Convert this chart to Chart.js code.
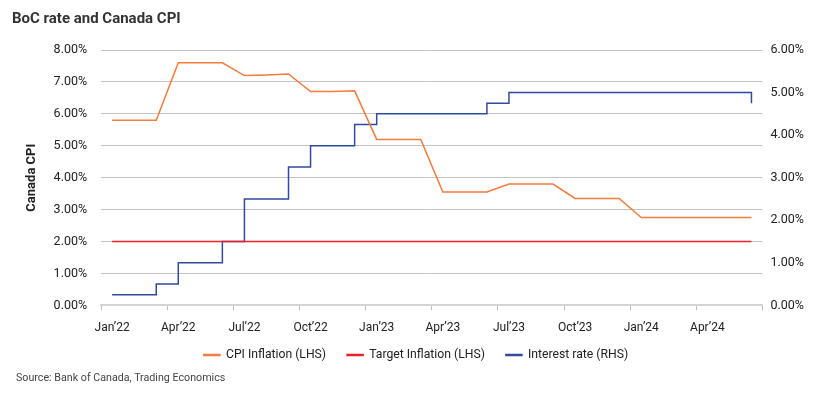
<!DOCTYPE html>
<html>
<head>
<meta charset="utf-8">
<script src="https://cdn.jsdelivr.net/npm/chart.js@4.4.1/dist/chart.umd.min.js"></script>
<style>
  html, body { margin: 0; padding: 0; background: #fff; }
  #wrap { position: relative; width: 831px; height: 394px; font-family: Roboto, sans-serif; }
  #title { position: absolute; left: 12px; top: 9px; font-size: 15px; font-weight: bold; color: #333; }
  #source { position: absolute; left: 16px; top: 371px; font-size: 10.7px; color: #444; }
  canvas { position: absolute; left: 0; top: 0; }
</style>
</head>
<body>
<div id="wrap">
  <canvas id="chart" width="831" height="394"></canvas>
  <div id="title">BoC rate and Canada CPI</div>
  <div id="source">Source: Bank of Canada, Trading Economics</div>
</div>
<script>
const MONTHS = [
  'Jan’22', 'Feb’22', 'Mar’22', 'Apr’22', 'May’22', 'Jun’22',
  'Jul’22', 'Aug’22', 'Sep’22', 'Oct’22', 'Nov’22', 'Dec’22',
  'Jan’23', 'Feb’23', 'Mar’23', 'Apr’23', 'May’23', 'Jun’23',
  'Jul’23', 'Aug’23', 'Sep’23', 'Oct’23', 'Nov’23', 'Dec’23',
  'Jan’24', 'Feb’24', 'Mar’24', 'Apr’24', 'May’24', 'Jun’24',
];
const CPI = [
  5.8, 5.8, 5.8, 7.6, 7.6, 7.6,
  7.2, 7.22, 7.25, 6.7, 6.7, 6.72,
  5.2, 5.2, 5.2, 3.55, 3.55, 3.55,
  3.8, 3.8, 3.8, 3.35, 3.35, 3.35,
  2.75, 2.75, 2.75, 2.75, 2.75, 2.75,
];
const TARGET = MONTHS.map(() => 2.0);
const RATE = [
  0.25, 0.25, 0.5, 1.0, 1.0, 1.5,
  2.5, 2.5, 3.25, 3.75, 3.75, 4.25,
  4.5, 4.5, 4.5, 4.5, 4.5, 4.75,
  5.0, 5.0, 5.0, 5.0, 5.0, 5.0,
  5.0, 5.0, 5.0, 5.0, 5.0, 4.75,
];
const LEFT_MAX = 8;
const RIGHT_MAX = 6;

const TEXT = '#222';
const FONT = 'Roboto';

// pull the legend up closer to the axis labels, keeping wide item spacing
const legendShift = {
  id: 'legendShift',
  afterLayout(chart) {
    chart.legend.top -= 17;
    chart.legend.bottom -= 17;
  },
};

new Chart(document.getElementById('chart'), {
  type: 'line',
  plugins: [legendShift],
  data: {
    labels: MONTHS,
    datasets: [
      {
        label: 'CPI Inflation (LHS)',
        data: CPI,
        yAxisID: 'y',
        borderColor: '#f47b3c',
        backgroundColor: '#f47b3c',
        borderWidth: 1.5,
        pointRadius: 0,
      },
      {
        label: 'Target Inflation (LHS)',
        data: TARGET,
        yAxisID: 'y',
        borderColor: '#e8202a',
        backgroundColor: '#e8202a',
        borderWidth: 1.5,
        pointRadius: 0,
      },
      {
        label: 'Interest rate (RHS)',
        data: RATE,
        yAxisID: 'y1',
        stepped: true,
        borderColor: '#2f4a9e',
        backgroundColor: '#2f4a9e',
        borderWidth: 1.5,
        pointRadius: 0,
      },
    ],
  },
  options: {
    responsive: false,
    animation: false,
    layout: { padding: { left: 20, right: 19, top: 50, bottom: 6 } },
    plugins: {
      tooltip: { enabled: false },
      legend: {
        position: 'bottom',
        labels: {
          boxWidth: 16,
          boxHeight: 1,
          padding: 21,
          color: TEXT,
          font: { family: FONT, size: 12.2 },
        },
      },
    },
    scales: {
      x: {
        offset: true,
        grid: {
          offset: true,
          drawOnChartArea: false,
          drawTicks: true,
          tickLength: 5,
          tickColor(ctx) {
            if (ctx.tick === undefined) return '#bdbdbd';
            return ctx.index % 3 === 0 ? '#bdbdbd' : 'rgba(0,0,0,0)';
          },
        },
        border: { display: true, color: '#d4d4d4', width: 2 },
        ticks: {
          autoSkip: false,
          maxRotation: 0,
          padding: 10,
          color: TEXT,
          font: { family: FONT, size: 12 },
          callback(v, i) {
            return i % 3 === 0 ? this.getLabelForValue(v) : '';
          },
        },
      },
      y: {
        position: 'left',
        min: 0,
        max: LEFT_MAX,
        grid: { color: '#c4c4c4', drawTicks: false },
        border: { display: false },
        title: {
          display: true,
          text: 'Canada CPI',
          color: TEXT,
          padding: { top: 4, bottom: 0 },
          font: { family: FONT, size: 13, weight: 'bold' },
        },
        ticks: {
          stepSize: 1,
          padding: 14,
          color: TEXT,
          font: { family: FONT, size: 12.5 },
          callback: (v) => Number(v).toFixed(2) + '%',
        },
      },
      y1: {
        position: 'right',
        min: 0,
        max: RIGHT_MAX,
        grid: { drawOnChartArea: false, drawTicks: false },
        border: { display: false },
        ticks: {
          stepSize: 1,
          padding: 8,
          color: TEXT,
          font: { family: FONT, size: 12.5 },
          callback: (v) => Number(v).toFixed(2) + '%',
        },
      },
    },
  },
});
</script>
</body>
</html>
